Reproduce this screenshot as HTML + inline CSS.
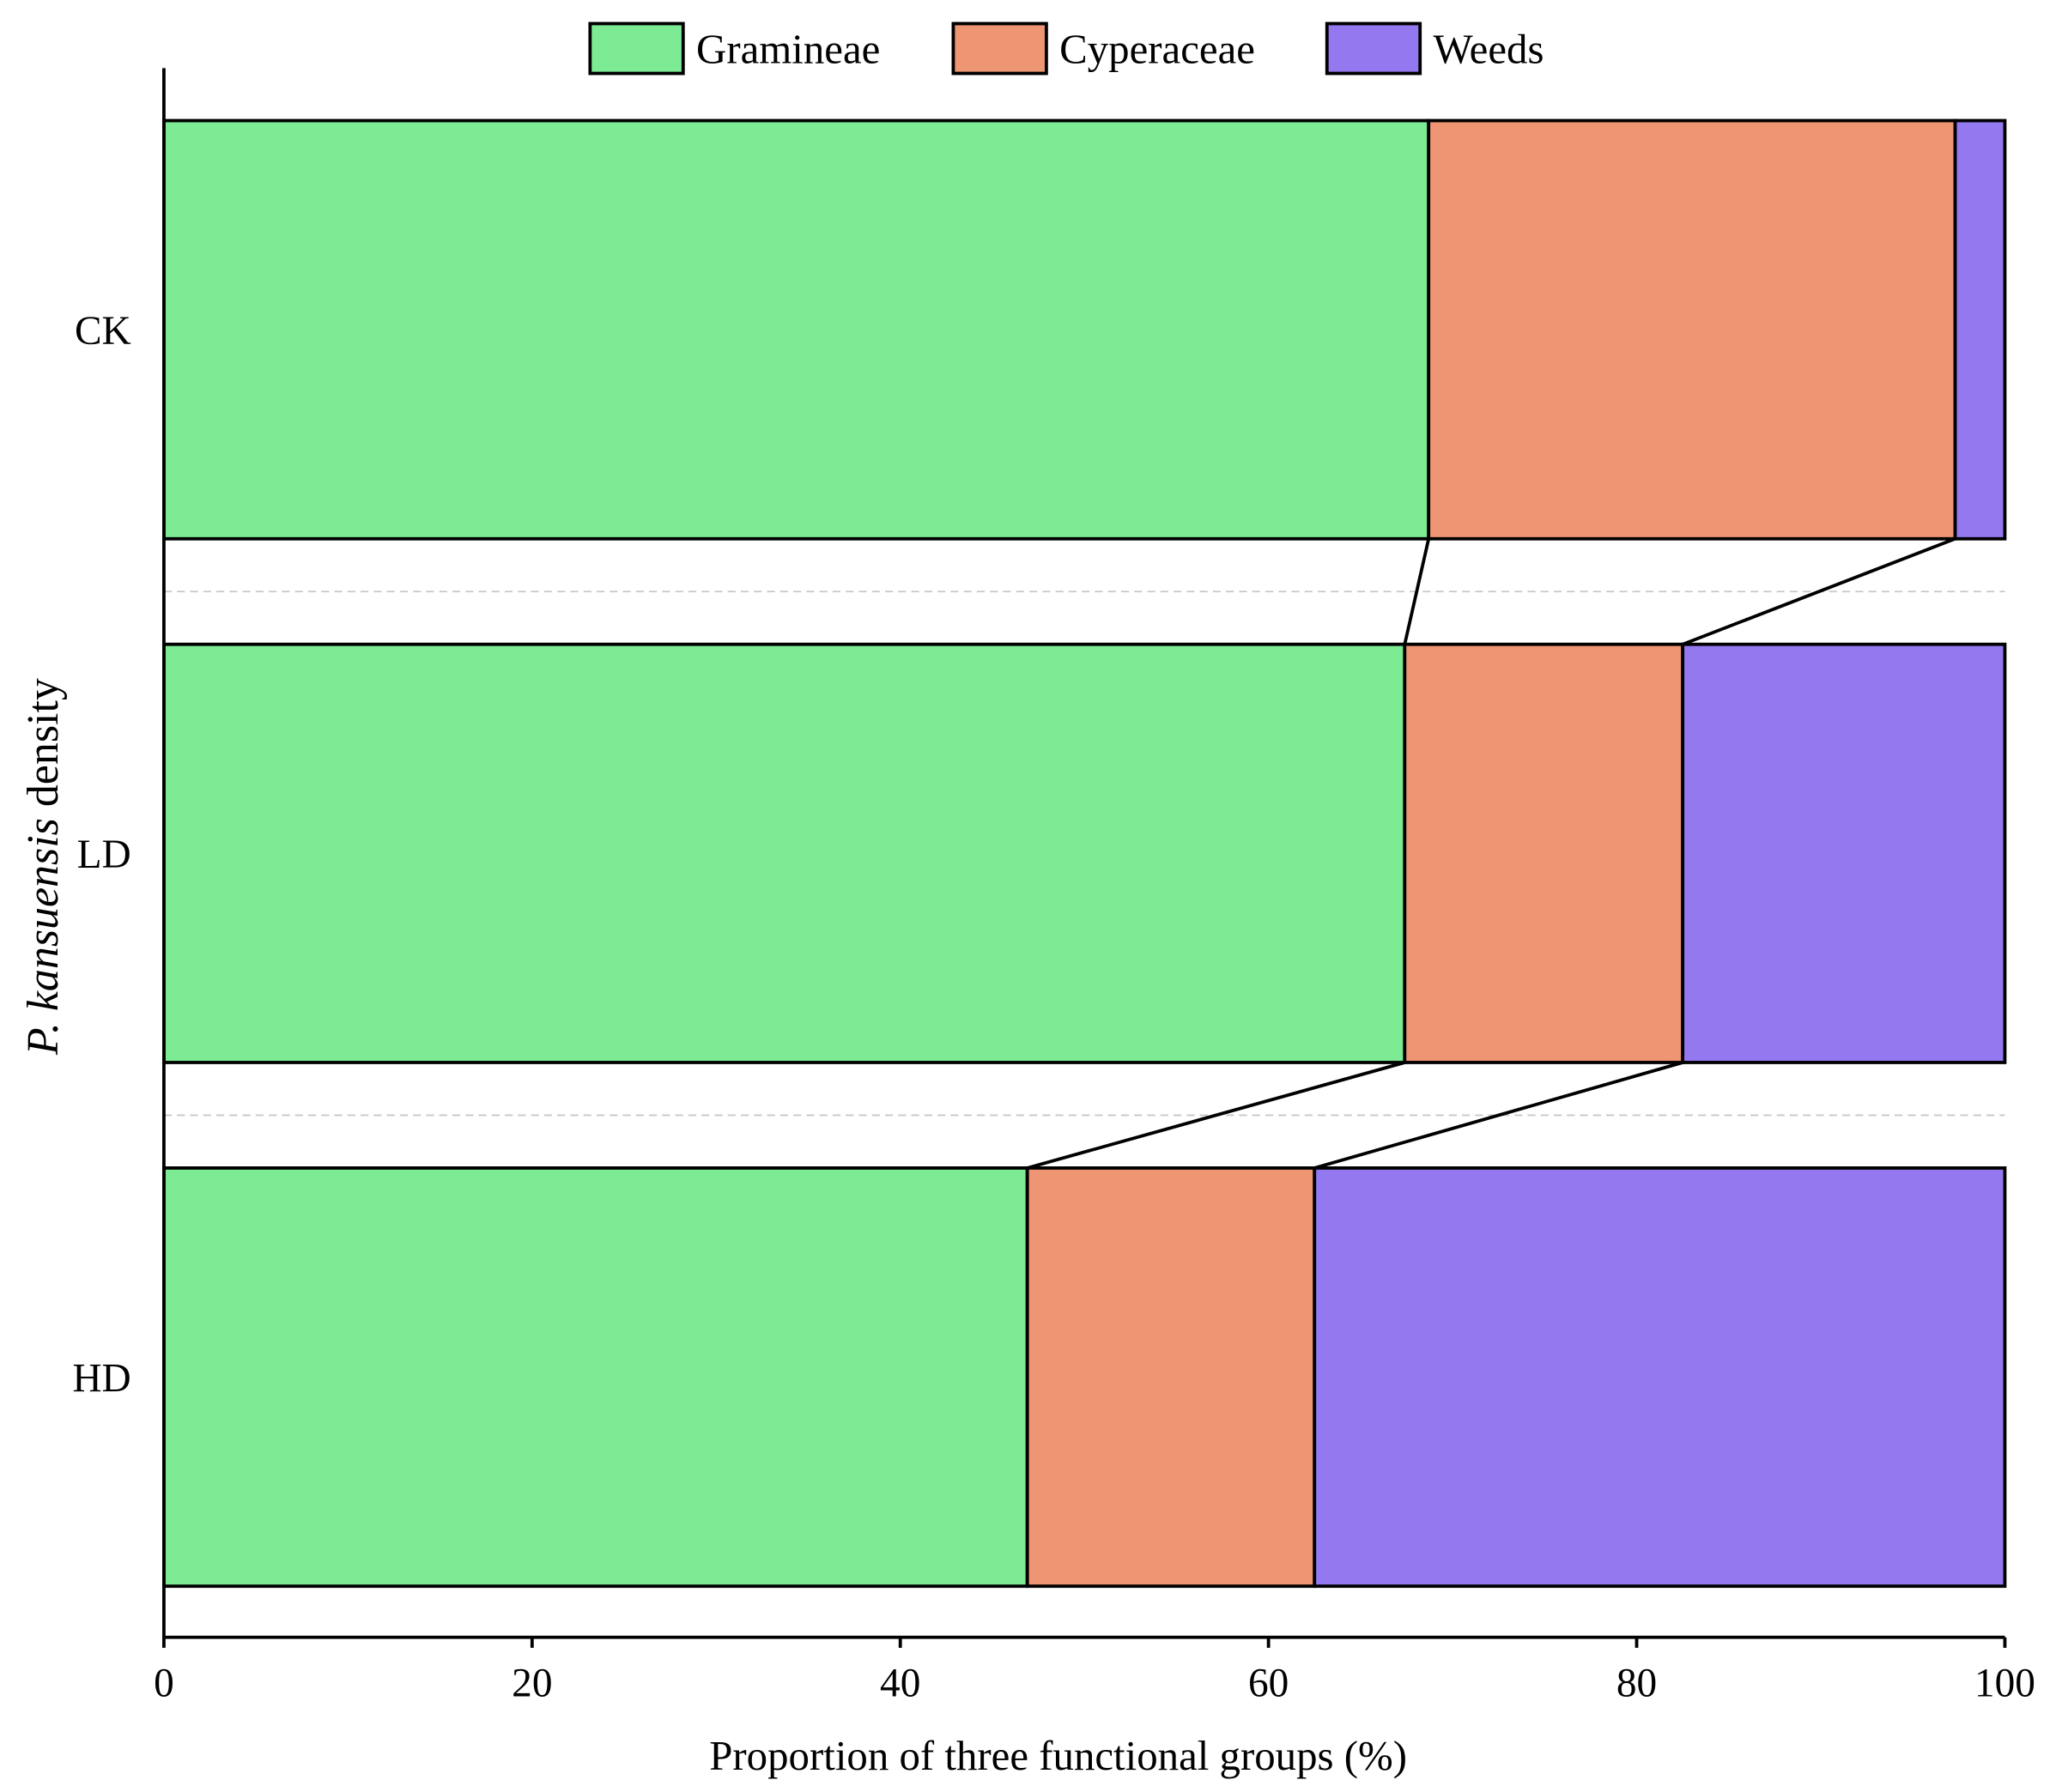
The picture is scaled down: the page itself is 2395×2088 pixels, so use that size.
<!DOCTYPE html>
<html><head><meta charset="utf-8"><style>
html,body{margin:0;padding:0;background:#fff;}
svg{display:block;font-family:"Liberation Serif",serif;}
</style></head><body>
<svg id="chart" width="2395" height="2088" viewBox="0 0 1568 1367" xmlns="http://www.w3.org/2000/svg"></svg>
<script>
const categories = ["CK","LD","HD"];
const gramineae = [68.7, 67.4, 46.9];
const cyperaceae = [28.6, 15.1, 15.6];
const weeds = [2.7, 17.5, 37.5];
const seriesNames = ["Gramineae","Cyperaceae","Weeds"];
const xTicks = [0,20,40,60,80,100];

const colors = ["#7deb94","#ee9674","#9378ef"];
const svg = document.getElementById('chart');
const NS = "http://www.w3.org/2000/svg";
const X0 = 125, X1 = 1529, TOP = 52, BOT = 1249;
const rowH = 399.5, barH = 319, firstTop = 92;
const SW = 2.5;
const xs = v => X0 + (X1 - X0) * v / 100;
const yTop = i => firstTop + i * rowH;
function mk(tag, attrs, parent){const e=document.createElementNS(NS,tag);for(const k in attrs)e.setAttribute(k,attrs[k]);(parent||svg).appendChild(e);return e;}

for(let i=0;i<categories.length-1;i++){
  const y = yTop(i)+barH+(rowH-barH)/2;
  const l = mk('line',{x1:X0,x2:X1,y1:y,y2:y,stroke:'#c8c8c8','stroke-width':1.2,'stroke-dasharray':'6,4'});
  
  
}
const series=[gramineae,cyperaceae,weeds];
const cum = categories.map((c,i)=>{let s=0;return series.map(a=>{s+=a[i];return s;});});
categories.forEach((c,i)=>{
  let start=0;
  series.forEach((arr,k)=>{
    const r = mk('rect',{x:xs(start),y:yTop(i),width:xs(start+arr[i])-xs(start),height:barH,fill:colors[k],stroke:'#000','stroke-width':SW});
    
    
    start+=arr[i];
  });
  const t = mk('text',{x:100,y:yTop(i)+barH/2+11,'text-anchor':'end','font-size':31});
  t.textContent=c;
  
  
});
for(let i=0;i<categories.length-1;i++){
  for(let k=0;k<2;k++){
    const l = mk('line',{x1:xs(cum[i][k]),y1:yTop(i)+barH,x2:xs(cum[i+1][k]),y2:yTop(i+1),stroke:'#000','stroke-width':SW});
    
    
  }
}
const ax=mk('path',{d:`M${X0},${TOP} V${BOT} H${X1}`,fill:'none',stroke:'#000','stroke-width':SW});


xTicks.forEach(v=>{
  const l=mk('line',{x1:xs(v),x2:xs(v),y1:BOT,y2:BOT+8,stroke:'#000','stroke-width':SW});
  
  
  const t=mk('text',{x:xs(v),y:BOT+45,'text-anchor':'middle','font-size':31});
  t.textContent=v;
  
  
});
const xt=mk('text',{x:807,y:1350,'text-anchor':'middle','font-size':32});
xt.textContent='Proportion of three functional groups (%)';


const yt=mk('text',{transform:'translate(44,661) rotate(-90)','text-anchor':'middle','font-size':34});
yt.innerHTML='<tspan font-style="italic">P. kansuensis</tspan> density';


const lx=[450,727,1012];
seriesNames.forEach((n,k)=>{
  const g=mk('g',{});
  
  
  mk('rect',{x:lx[k],y:18,width:71,height:38,fill:colors[k],stroke:'#000','stroke-width':SW},g);
  const t=mk('text',{x:lx[k]+81,y:48,'font-size':32},g);
  t.textContent=n;
});
</script>
</body></html>
